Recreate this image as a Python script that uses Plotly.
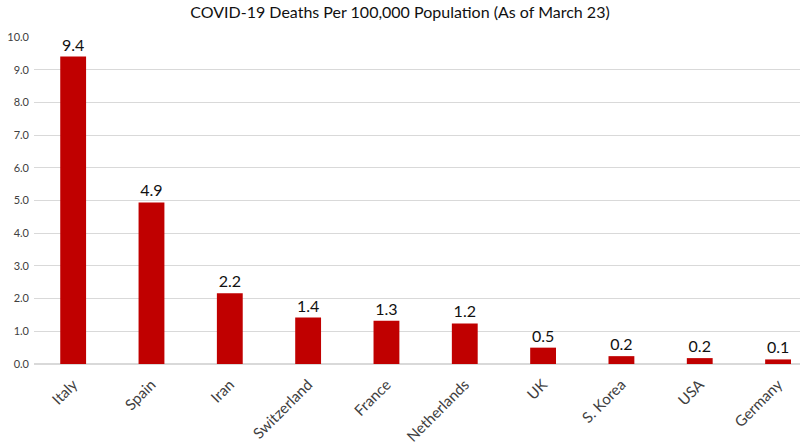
import plotly.graph_objects as go

countries = ["Italy", "Spain", "Iran", "Switzerland", "France", "Netherlands",
             "UK", "S. Korea", "USA", "Germany"]
deaths_per_100k = [9.4, 4.94, 2.16, 1.42, 1.32, 1.24, 0.50, 0.24, 0.18, 0.14]

fig = go.Figure()
fig.add_trace(go.Bar(
    x=countries,
    y=deaths_per_100k,
    marker=dict(color="#C00000", line=dict(width=0)),
    texttemplate="%{y:.1f}",
    textposition="outside",
    textfont=dict(family="Lato", size=16, color="#111111"),
    cliponaxis=False,
))

fig.update_layout(
    width=800, height=445,
    margin=dict(l=34, r=0, t=37, b=81),
    paper_bgcolor="white", plot_bgcolor="white",
    bargap=0.67,
    showlegend=False,
    title=dict(text="COVID-19 Deaths Per 100,000 Population (As of March 23)",
               x=0.5, xref="container", xanchor="center",
               y=0.972, yanchor="middle",
               font=dict(family="Lato", size=16, color="#111111")),
)
fig.update_yaxes(range=[0, 10], dtick=1, tickformat=".1f",
                 showgrid=True, gridcolor="#d9d9d9", gridwidth=1,
                 zeroline=True, zerolinecolor="#d9d9d9",
                 showline=False, ticks="", automargin=False,
                 ticklabelstandoff=4,
                 tickfont=dict(family="Lato", size=11, color="#404040"))
fig.update_xaxes(range=[-0.5, 9.28], tickangle=-45, showline=False, ticks="",
                 automargin=False, ticklabelstandoff=8,
                 tickfont=dict(family="Lato", size=15, color="#404040"))

# drop the browser's default body margin so the figure sits at the page corner
fig.write_html("out.html", config={"displayModeBar": False},
               post_script="document.body.style.margin='0';")
